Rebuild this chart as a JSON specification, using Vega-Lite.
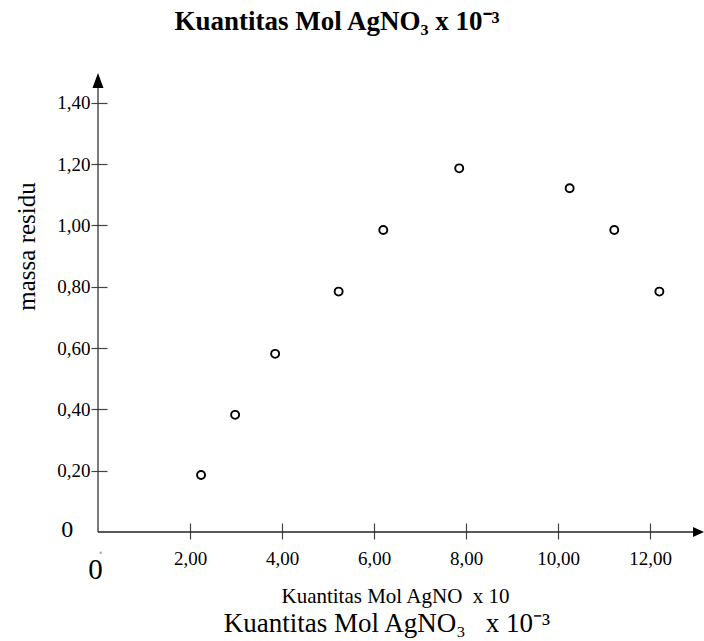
{
  "$schema": "https://vega.github.io/schema/vega-lite/v6.json",
  "width": 606,
  "height": 459,
  "autosize": {"type": "none"},
  "padding": {"left": 98, "top": 73, "right": 0, "bottom": 109},
  "background": "white",
  "config": {"view": {"stroke": null}, "font": "Liberation Serif"},
  "title": {
    "text": "Kuantitas Mol AgNO₃ x 10⁻³",
    "font": "Liberation Serif",
    "fontSize": 27,
    "fontWeight": "bold",
    "color": "black",
    "anchor": "middle",
    "frame": "group",
    "dx": -64,
    "baseline": "alphabetic",
    "offset": 16
  },
  "layer": [
    {
      "data": {"values": [{}]},
      "mark": {"type": "rule", "color": "#333", "strokeWidth": 1.3},
      "encoding": {
        "x": {"datum": 0, "type": "quantitative"},
        "y": {"datum": 0, "type": "quantitative"},
        "y2": {"datum": 1.45}
      }
    },
    {
      "data": {"values": [{}]},
      "mark": {"type": "rule", "color": "#222", "strokeWidth": 1.3},
      "encoding": {
        "x": {"datum": 0, "type": "quantitative"},
        "x2": {"datum": 12.97},
        "y": {"datum": 0, "type": "quantitative"}
      }
    },
    {
      "data": {"values": [{}]},
      "mark": {"type": "point", "shape": "M0,0L0.367,1L-0.367,1Z", "size": 900, "filled": true, "color": "black", "opacity": 1},
      "encoding": {
        "x": {"datum": 0, "type": "quantitative"},
        "y": {"datum": 1.497, "type": "quantitative"}
      }
    },
    {
      "data": {"values": [{}]},
      "mark": {"type": "point", "shape": "M0,0L-1,0.45L-1,-0.45Z", "size": 484, "filled": true, "color": "black", "opacity": 1},
      "encoding": {
        "x": {"datum": 13.17, "type": "quantitative"},
        "y": {"datum": 0, "type": "quantitative"}
      }
    },
    {
      "data": {"values": [{}]},
      "mark": {"type": "text", "text": "0", "font": "Liberation Serif", "fontSize": 24, "color": "black", "align": "center", "baseline": "middle"},
      "encoding": {
        "x": {"datum": -0.67, "type": "quantitative"},
        "y": {"datum": 0.005, "type": "quantitative"}
      }
    },
    {
      "data": {"values": [{}]},
      "mark": {"type": "text", "text": "0", "font": "Liberation Serif", "fontSize": 29, "color": "black", "align": "center", "baseline": "middle"},
      "encoding": {
        "x": {"datum": -0.054, "type": "quantitative"},
        "y": {"datum": -0.124, "type": "quantitative"}
      }
    },
    {
      "data": {"values": [{}]},
      "mark": {"type": "point", "shape": "circle", "size": 6, "filled": true, "color": "#aaa", "opacity": 1},
      "encoding": {
        "x": {"datum": 0.059, "type": "quantitative"},
        "y": {"datum": -0.0675, "type": "quantitative"}
      }
    },
    {
      "data": {"values": [{}]},
      "mark": {"type": "text", "text": "Kuantitas Mol AgNO₃\u00a0\u00a0\u00a0x 10⁻³", "font": "Liberation Serif", "fontSize": 27, "color": "black", "align": "center", "baseline": "alphabetic"},
      "encoding": {
        "x": {"datum": 6.28, "type": "quantitative"},
        "y": {"datum": -0.326, "type": "quantitative"}
      }
    },
    {
      "data": {
        "values": [
          {"kuantitas": 2.24, "massa": 0.186},
          {"kuantitas": 2.98, "massa": 0.382},
          {"kuantitas": 3.85, "massa": 0.581},
          {"kuantitas": 5.23, "massa": 0.784},
          {"kuantitas": 6.2, "massa": 0.985},
          {"kuantitas": 7.85, "massa": 1.186},
          {"kuantitas": 10.25, "massa": 1.121},
          {"kuantitas": 11.22, "massa": 0.985},
          {"kuantitas": 12.2, "massa": 0.784}
        ]
      },
      "mark": {"type": "point", "shape": "circle", "filled": false, "size": 64, "strokeWidth": 1.9, "color": "black", "opacity": 1},
      "encoding": {
        "x": {
          "field": "kuantitas",
          "type": "quantitative",
          "scale": {"domain": [0, 13.17], "nice": false, "zero": false},
          "axis": {
            "values": [2, 4, 6, 8, 10, 12],
            "labelExpr": "replace(format(datum.value, '.2f'), '.', ',')",
            "offset": -9,
            "tickSize": 16,
            "tickColor": "#444",
            "tickWidth": 1.2,
            "domain": false,
            "grid": false,
            "labelFont": "Liberation Serif",
            "labelFontSize": 19,
            "labelColor": "black",
            "labelPadding": 10,
            "labelFlush": false,
            "labelOverlap": false,
            "encode": {"labels": {"update": {"dx": {"signal": "datum.value == 2 ? 18 : datum.value == 4 ? 9 : datum.value == 6 ? 17 : datum.value == 8 ? 2 : datum.value == 10 ? 12 : -6"}}}},
            "title": "Kuantitas Mol AgNO\u00a0\u00a0x 10",
            "titleFont": "Liberation Serif",
            "titleFontSize": 21,
            "titleFontWeight": "normal",
            "titleColor": "black",
            "titlePadding": 17,
            "titleX": 297
          }
        },
        "y": {
          "field": "massa",
          "type": "quantitative",
          "scale": {"domain": [0, 1.497], "nice": false, "zero": false},
          "axis": {
            "values": [0.2, 0.4, 0.6, 0.8, 1.0, 1.2, 1.4],
            "labelExpr": "replace(format(datum.value, '.2f'), '.', ',')",
            "offset": -9,
            "tickSize": 16,
            "tickColor": "#444",
            "tickWidth": 1.2,
            "domain": false,
            "grid": false,
            "labelFont": "Liberation Serif",
            "labelFontSize": 19,
            "labelColor": "black",
            "labelPadding": 1,
            "labelFlush": false,
            "labelOverlap": false,
            "title": "massa residu",
            "titleFont": "Liberation Serif",
            "titleFontSize": 25,
            "titleFontWeight": "normal",
            "titleColor": "black",
            "titleAngle": 270,
            "titleAlign": "center",
            "titleBaseline": "alphabetic",
            "titleX": -73,
            "titleY": 173
          }
        }
      }
    }
  ]
}
